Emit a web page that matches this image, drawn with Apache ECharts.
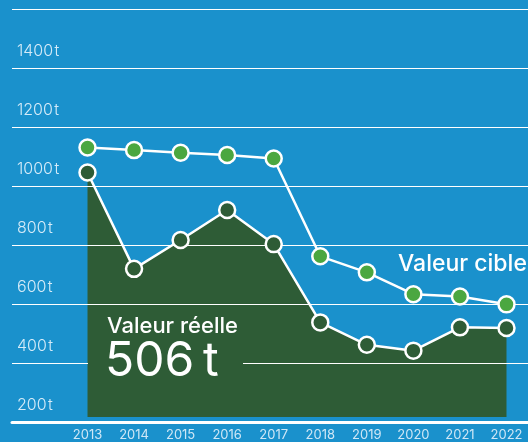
<!DOCTYPE html>
<html>
<head>
<meta charset="utf-8">
<script src="https://cdn.jsdelivr.net/npm/echarts@6/dist/echarts.min.js"></script>
<style>
    html, body { margin: 0; padding: 0; background: #1a91cc; }
    #chart { width: 528px; height: 442px; }
</style>
</head>
<body>
<div id="chart"></div>
<script>
// données
const years = ['2013', '2014', '2015', '2016', '2017', '2018', '2019', '2020', '2021', '2022'];
const realValues = [1040, 709, 808, 911, 794, 525, 448, 428, 508, 506];     // valeur réelle
const targetValues = [1126, 1117, 1108, 1100, 1088, 752, 697, 622, 614, 587]; // valeur cible
const yMin = 200;
const yMax = 1600;
const yStep = 200;

const FONT = 'Inter, "Noto Sans", sans-serif';
const BLUE = '#1a91cc';
const DARK = '#2e5c36';
const GREEN = '#4ba740';

let chart = echarts.init(document.getElementById('chart'));
let option = {
    backgroundColor: BLUE,
    animation: false,
    grid: [
        // grille des données
        {left: 87.5, right: 21.5, top: 9.5, bottom: 19.5},
        // grille décorative (lignes pleine largeur)
        {left: 12, right: 0, top: 9.5, bottom: 19.5}
    ],
    xAxis: [
        {
            gridIndex: 0,
            type: 'category',
            data: years,
            boundaryGap: false,
            axisLine: {show: false},
            axisTick: {show: false},
            axisLabel: {color: '#cfe7f6', fontSize: 13, fontFamily: FONT, margin: 12}
        },
        {
            gridIndex: 1,
            type: 'value',
            min: 0, max: 1,
            axisLine: {show: true, lineStyle: {color: '#fff', width: 3}},
            axisTick: {show: false},
            axisLabel: {show: false},
            splitLine: {show: false},
            z: 4
        }
    ],
    yAxis: [
        {
            gridIndex: 0,
            type: 'value',
            min: yMin, max: yMax, interval: yStep,
            show: false
        },
        {
            gridIndex: 1,
            type: 'value',
            min: yMin, max: yMax, interval: yStep,
            axisLine: {show: false},
            axisTick: {show: false},
            splitLine: {lineStyle: {color: '#ffffff', width: 1.2}},
            axisLabel: {
                inside: true,
                margin: 5,
                color: '#d5ebf8',
                fontSize: 16,
                fontWeight: 300,
                fontFamily: FONT,
                verticalAlign: 'bottom',
                lineHeight: 16,
                padding: [0, 0, 9, 0],
                formatter: v => v === yMax ? '' : v + '\u200at'
            },
            z: 3
        }
    ],
    graphic: [
        {
            type: 'rect', z: 5,
            shape: {x: 88, y: 312, width: 155, height: 88},
            style: {fill: DARK}
        },
        {
            type: 'text', z: 6, left: 107, top: 315,
            style: {text: 'Valeur réelle', fill: '#fff', font: '500 22px ' + FONT}
        },
        {
            type: 'text', z: 6, left: 105, top: 338,
            style: {text: '506\u2009t', fill: '#fff', font: '400 48px ' + FONT}
        },
        {
            type: 'text', z: 6, left: 398, top: 253,
            style: {text: 'Valeur cible', fill: '#fff', font: '500 23px ' + FONT}
        }
    ],
    series: [
        {
            // zone remplie
            type: 'line',
            xAxisIndex: 0, yAxisIndex: 0,
            data: realValues,
            symbol: 'none',
            lineStyle: {width: 0},
            areaStyle: {color: DARK, opacity: 1, origin: 'start'},
            z: 1
        },
        {
            type: 'line',
            xAxisIndex: 0, yAxisIndex: 0,
            data: realValues,
            symbol: 'circle',
            symbolSize: 16,
            lineStyle: {color: '#fff', width: 2.5},
            itemStyle: {color: DARK, borderColor: '#fff', borderWidth: 2.5},
            z: 10
        },
        {
            type: 'line',
            xAxisIndex: 0, yAxisIndex: 0,
            data: targetValues,
            symbol: 'circle',
            symbolSize: 16,
            lineStyle: {color: '#fff', width: 2.5},
            itemStyle: {color: GREEN, borderColor: '#fff', borderWidth: 2.5},
            z: 10
        }
    ]
};
chart.setOption(option);
</script>
</body>
</html>
